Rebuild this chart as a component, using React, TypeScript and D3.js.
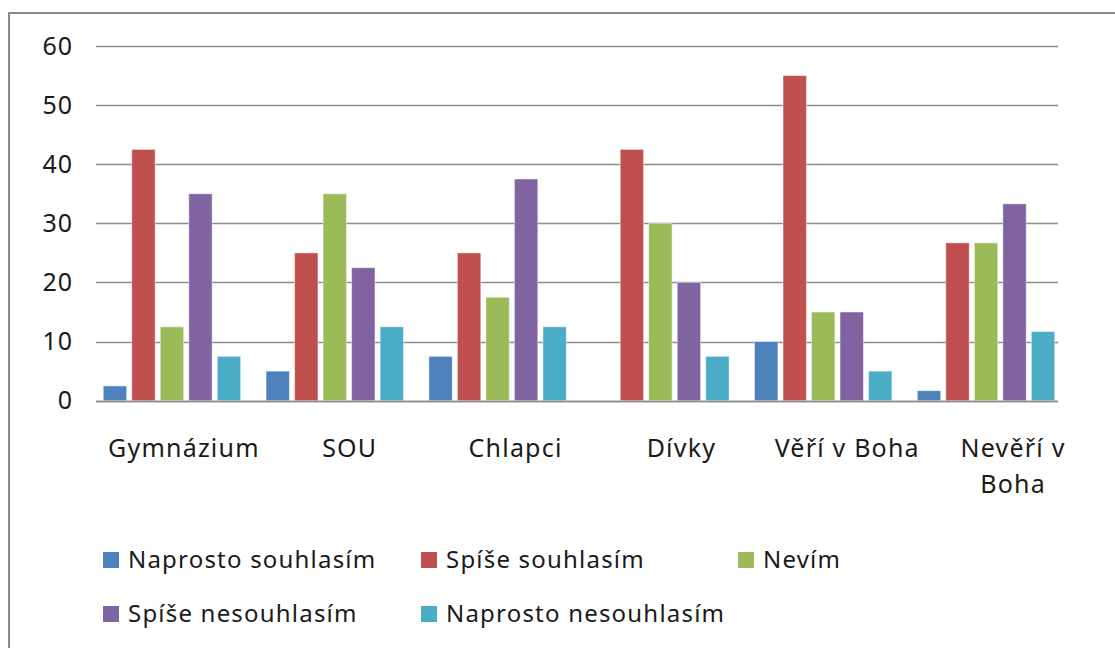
import React, { useEffect, useRef } from "react";
import * as d3 from "d3";

const categories = ["Gymnázium", "SOU", "Chlapci", "Dívky", "Věří v Boha", "Nevěří v Boha"];
const categoryLines = [["Gymnázium"], ["SOU"], ["Chlapci"], ["Dívky"], ["Věří v Boha"], ["Nevěří v", "Boha"]];
const seriesNames = ["Naprosto souhlasím", "Spíše souhlasím", "Nevím", "Spíše nesouhlasím", "Naprosto nesouhlasím"];
const seriesColors = ["#4F81BD", "#C0504D", "#9BBB59", "#8064A2", "#4BACC6"];
const naprostoSouhlasim = [2.5, 5, 7.5, 0, 10, 1.7];
const spiseSouhlasim = [42.5, 25, 25, 42.5, 55, 26.7];
const nevim = [12.5, 35, 17.5, 30, 15, 26.7];
const spiseNesouhlasim = [35, 22.5, 37.5, 20, 15, 33.3];
const naprostoNesouhlasim = [7.5, 12.5, 12.5, 7.5, 5, 11.7];
const seriesValues = [naprostoSouhlasim, spiseSouhlasim, nevim, spiseNesouhlasim, naprostoNesouhlasim];
const yTicks = [0, 10, 20, 30, 40, 50, 60];

const W = 1115;
const H = 648;
const FONT = "'Noto Sans', 'Open Sans', sans-serif";

export default function App() {
  const ref = useRef<SVGSVGElement>(null);

  useEffect(() => {
    const svg = d3.select(ref.current);
    svg.selectAll("*").remove();

    const plotLeft = 96, plotRight = 1058, plotTop = 46, plotBottom = 400.7;

    // frame
    svg.append("rect")
      .attr("x", 9).attr("y", 13)
      .attr("width", W + 20).attr("height", H + 20)
      .attr("fill", "#fff").attr("stroke", "#8a8a8a").attr("stroke-width", 2);

    const y = d3.scaleLinear().domain([0, 60]).range([plotBottom, plotTop]);
    const x0 = d3.scaleBand<string>().domain(categories).range([plotLeft + 4, plotRight])
      .paddingInner(0.156).paddingOuter(0.02);
    const x1 = d3.scaleBand<number>().domain(d3.range(seriesNames.length))
      .range([0, x0.bandwidth()]).paddingInner(0.18).paddingOuter(0);
    const xLabel = d3.scaleBand<string>().domain(categories).range([101, 1096]);

    // gridlines
    const grid = svg.append("g");
    grid.selectAll("line").data(yTicks).join("line")
      .attr("x1", plotLeft).attr("x2", plotRight)
      .attr("y1", (d) => Math.round(y(d)) + 0.5).attr("y2", (d) => Math.round(y(d)) + 0.5)
      .attr("stroke", "#8c8c8c").attr("stroke-width", 1.3);

    // y tick labels
    svg.append("g").selectAll("text").data(yTicks).join("text")
      .attr("x", 73).attr("y", (d) => y(d))
      .attr("dy", "0.35em")
      .attr("text-anchor", "end")
      .attr("font-family", FONT).attr("font-size", 25)
      .attr("letter-spacing", 1)
      .attr("fill", "#1a1a1a")
      .text((d) => d);

    // bars
    const groups = svg.append("g").selectAll("g").data(categories).join("g")
      .attr("transform", (d) => `translate(${x0(d)},0)`);
    groups.selectAll("rect")
      .data((_c, ci) => seriesValues.map((vals, si) => ({ si, v: vals[ci] })))
      .join("rect")
      .filter((d) => d.v > 0)
      .attr("x", (d) => x1(d.si)!)
      .attr("width", x1.bandwidth())
      .attr("y", (d) => y(d.v))
      .attr("height", (d) => y(0) - y(d.v))
      .attr("fill", (d) => seriesColors[d.si])
      .attr("stroke", "#ffffff").attr("stroke-opacity", 0.45).attr("stroke-width", 1);

    // baseline on top
    svg.append("line")
      .attr("x1", plotLeft).attr("x2", plotRight)
      .attr("y1", Math.round(y(0)) + 0.5).attr("y2", Math.round(y(0)) + 0.5)
      .attr("stroke", "#8c8c8c").attr("stroke-width", 1.5);

    // category labels
    const cl = svg.append("g").selectAll("text").data(categories).join("text")
      .attr("x", (d) => xLabel(d)! + xLabel.bandwidth() / 2)
      .attr("y", 457)
      .attr("text-anchor", "middle")
      .attr("font-family", FONT).attr("font-size", 25)
      .attr("letter-spacing", 1.2)
      .attr("fill", "#1a1a1a");
    cl.each(function (_d, i) {
      const t = d3.select(this);
      categoryLines[i].forEach((line, li) => {
        t.append("tspan")
          .attr("x", xLabel(categories[i])! + xLabel.bandwidth() / 2)
          .attr("dy", li === 0 ? 0 : 36)
          .text(line);
      });
    });

    // legend
    const colX = [103, 421, 738];
    const rowY = [560, 614];
    const leg = svg.append("g").selectAll("g").data(seriesNames).join("g")
      .attr("transform", (_d, i) => `translate(${colX[i % 3]},${rowY[Math.floor(i / 3)]})`);
    leg.append("rect")
      .attr("x", 0).attr("y", -8).attr("width", 16).attr("height", 16)
      .attr("fill", (_d, i) => seriesColors[i]);
    leg.append("text")
      .attr("x", 25).attr("y", 0).attr("dy", "0.35em")
      .attr("font-family", FONT).attr("font-size", 24)
      .attr("letter-spacing", 1.2)
      .attr("fill", "#1a1a1a")
      .text((d) => d);
  }, []);

  return (
    <svg
      ref={ref}
      width={W}
      height={H}
      style={{ position: "absolute", left: 0, top: 0, background: "#fff" }}
    />
  );
}
